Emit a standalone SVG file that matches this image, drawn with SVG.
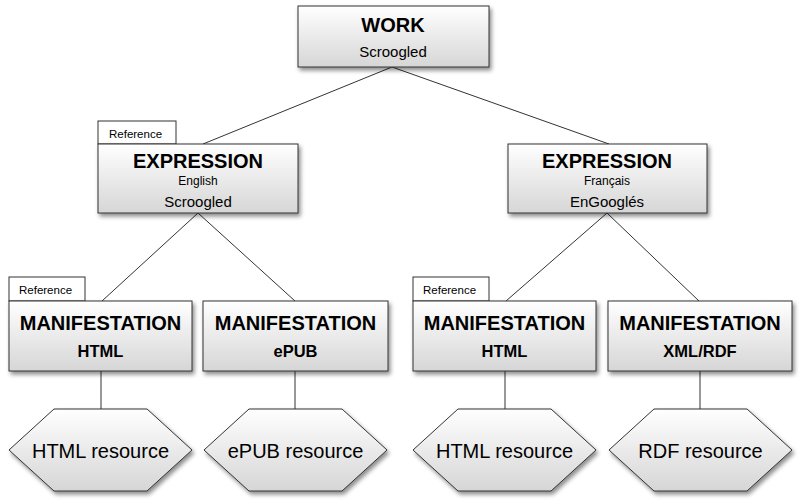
<svg xmlns="http://www.w3.org/2000/svg" width="800" height="504" viewBox="0 0 800 504">
<defs>
<linearGradient id="g" x1="0" y1="0" x2="0" y2="1">
<stop offset="0" stop-color="#ffffff"/>
<stop offset="1" stop-color="#d6d6d6"/>
</linearGradient>
<filter id="sh" x="-10%" y="-10%" width="130%" height="140%">
<feDropShadow dx="2" dy="3" stdDeviation="2" flood-color="#000" flood-opacity="0.45"/>
</filter>
</defs>
<style>
.box{fill:url(#g);stroke:#333;stroke-width:1;filter:url(#sh)}
.tab{fill:#fff;stroke:#333;stroke-width:1}
.t{font-family:"Liberation Sans",Arial,sans-serif;text-anchor:middle;fill:#000}
.h{font-weight:bold;font-size:20px}
.s{font-size:15px}
.xs{font-size:12px}
.sb{font-weight:bold;font-size:16.5px}
.r{font-size:11.5px;text-anchor:start}
.hx{font-size:20px}
.c{stroke:#333;stroke-width:1;fill:none}
</style>
<g id="connectors">
<line class="c" x1="392" y1="67" x2="203" y2="144"/>
<line class="c" x1="392" y1="67" x2="609" y2="144"/>
<line class="c" x1="198" y1="213" x2="102" y2="301"/>
<line class="c" x1="198" y1="213" x2="295" y2="301"/>
<line class="c" x1="607" y1="213" x2="506" y2="301"/>
<line class="c" x1="607" y1="213" x2="699" y2="301"/>
<line class="c" x1="101" y1="371" x2="101" y2="409"/>
<line class="c" x1="295" y1="371" x2="295" y2="409"/>
<line class="c" x1="505" y1="371" x2="505" y2="409"/>
<line class="c" x1="700" y1="371" x2="700" y2="409"/>
</g>
<g id="work">
<rect class="box" x="298" y="6" width="191" height="61"/>
<text class="t h" x="393" y="32">WORK</text>
<text class="t s" x="393" y="57">Scroogled</text>
</g>
<g id="expr-en">
<rect class="tab" x="98" y="121" width="78" height="23"/>
<text class="t r" x="109" y="138">Reference</text>
<rect class="box" x="98" y="144" width="200" height="69"/>
<text class="t h" x="198" y="168">EXPRESSION</text>
<text class="t xs" x="198" y="185">English</text>
<text class="t s" x="198" y="207">Scroogled</text>
</g>
<g id="expr-fr">
<rect class="box" x="508" y="144" width="199" height="69"/>
<text class="t h" x="607" y="168">EXPRESSION</text>
<text class="t xs" x="607" y="185">Français</text>
<text class="t s" x="607" y="207">EnGooglés</text>
</g>
<g id="man-html-en">
<rect class="tab" x="9" y="277" width="76" height="24"/>
<text class="t r" x="19" y="294">Reference</text>
<rect class="box" x="9" y="301" width="183" height="70"/>
<text class="t h" x="100.5" y="330">MANIFESTATION</text>
<text class="t sb" x="100.5" y="357">HTML</text>
</g>
<g id="man-epub">
<rect class="box" x="203" y="301" width="185" height="70"/>
<text class="t h" x="295.5" y="330">MANIFESTATION</text>
<text class="t sb" x="295.5" y="357">ePUB</text>
</g>
<g id="man-html-fr">
<rect class="tab" x="413" y="277" width="76" height="24"/>
<text class="t r" x="423" y="294">Reference</text>
<rect class="box" x="413" y="301" width="183" height="70"/>
<text class="t h" x="504.5" y="330">MANIFESTATION</text>
<text class="t sb" x="504.5" y="357">HTML</text>
</g>
<g id="man-xml">
<rect class="box" x="608" y="301" width="184" height="70"/>
<text class="t h" x="700" y="330">MANIFESTATION</text>
<text class="t sb" x="700" y="357">XML/RDF</text>
</g>
<g id="res-html-en">
<polygon class="box" points="9,450 54,409 147,409 192,450 147,491 54,491"/>
<text class="t hx" x="100.5" y="458">HTML resource</text>
</g>
<g id="res-epub">
<polygon class="box" points="204,450 249,409 342,409 387,450 342,491 249,491"/>
<text class="t hx" x="295.5" y="458">ePUB resource</text>
</g>
<g id="res-html-fr">
<polygon class="box" points="413,450 458,409 551,409 596,450 551,491 458,491"/>
<text class="t hx" x="504.5" y="458">HTML resource</text>
</g>
<g id="res-rdf">
<polygon class="box" points="609,450 654,409 747,409 792,450 747,491 654,491"/>
<text class="t hx" x="700.5" y="458">RDF resource</text>
</g>
</svg>
